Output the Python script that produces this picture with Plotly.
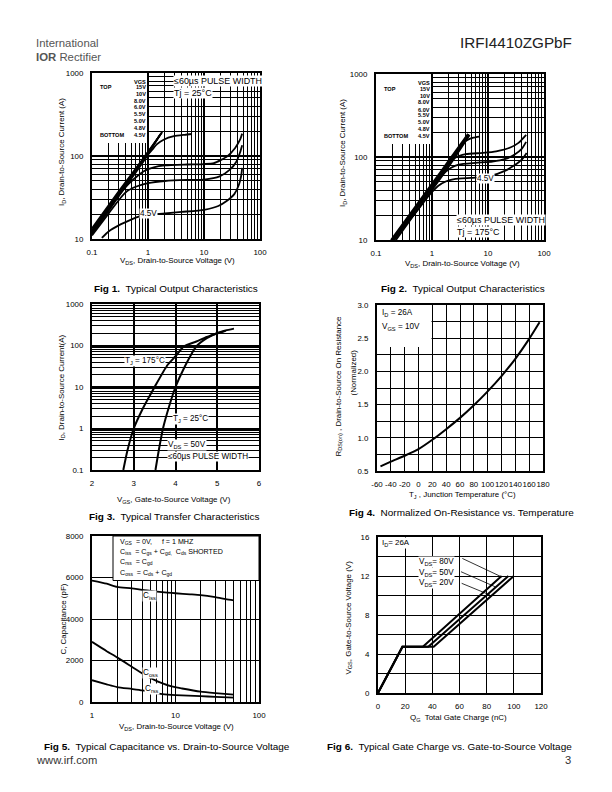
import plotly.graph_objects as go

# ======================= DATA =======================
# Fig 1 : Typical output characteristics, Tj = 25 C   (VDS [V], ID [A])
vgs_labels = ["15V", "10V", "8.0V", "6.0V", "5.5V", "5.0V", "4.8V", "4.5V"]
f1_vds_15v = [0.1, 0.3, 0.8, 1.8]
f1_id_15v = [13.5, 37.5, 91.5, 195]
f1_vds_10v = [0.1, 0.3, 0.8, 1.75]
f1_id_10v = [12.8, 36, 89, 190]
f1_vds_8v = [0.1, 0.3, 0.8, 1.7]
f1_id_8v = [12.2, 34.5, 86, 186]
f1_vds_6v = [0.1, 0.3, 0.8, 1.65]
f1_id_6v = [11.8, 33, 83, 182]
f1_vds_55v = [0.1, 0.3, 0.6, 0.9, 1.2, 1.45, 1.9, 2.9, 4.5, 6.1]
f1_id_55v = [12, 34, 66, 95, 120, 139, 157, 173, 180, 184]
f1_vds_50v = [0.1, 0.2, 0.3, 0.45, 0.64, 0.84, 1.27, 2, 5, 10, 15, 26, 36, 44, 48]
f1_id_50v = [11.5, 22, 33, 46, 57, 65.6, 73, 77, 79, 80, 82, 99, 125, 157, 186]
f1_vds_48v = [0.1, 0.2, 0.32, 0.42, 0.64, 1, 2, 5, 10, 19, 29, 38, 44, 48]
f1_id_48v = [11, 20.5, 31, 37.6, 43.2, 47, 50, 51.5, 52, 56.8, 68.5, 86, 110, 135]
f1_vds_45v = [0.15, 0.2, 0.3, 0.5, 0.7, 1, 2, 4, 10, 18, 25, 35, 42, 46, 48]
f1_id_45v = [10.3, 12.4, 14.6, 17.1, 18.7, 19.6, 20.3, 21.2, 22.5, 25, 28.5, 35, 45, 57, 72]

# Fig 2 : Typical output characteristics, Tj = 175 C
f2_vds_15v = [0.185, 0.5, 1, 2, 4.4]
f2_id_15v = [10, 25.2, 47.9, 91, 190]
f2_vds_10v = [0.2, 0.5, 1, 2, 4.5]
f2_id_10v = [10, 24, 45, 86, 188]
f2_vds_8v = [0.213, 0.5, 1, 2, 4.6]
f2_id_8v = [10, 22.5, 42.5, 81, 186]
f2_vds_6v = [0.227, 0.5, 1, 2, 4.7]
f2_id_6v = [10, 21, 40, 77, 184]
f2_vds_55v = [0.2, 0.5, 1, 2, 3, 3.6, 4.5, 5.5, 7]
f2_id_55v = [10, 24, 45, 86, 128, 148, 163, 171, 176]
f2_vds_50v = [0.2, 0.5, 1, 1.5, 2, 2.6, 4, 8, 14, 25, 35, 48]
f2_id_50v = [10, 23.5, 44, 64, 82, 98, 108, 112, 117, 130, 148, 185]
f2_vds_48v = [0.2, 0.5, 1, 1.5, 2.2, 3, 6, 12, 20, 30, 40, 48]
f2_id_48v = [10, 23, 43, 60, 74, 81, 85, 88, 94, 107, 125, 152]
f2_vds_45v = [0.2, 0.5, 0.9, 1.3, 1.8, 2.5, 5, 10, 20, 30, 40, 49]
f2_id_45v = [10, 21, 35, 45, 51, 54, 56, 58, 68, 80, 93, 112]

# Fig 3 : Typical transfer characteristics (VGS [V], ID [A])
f3_vgs_175 = [2.75, 2.85, 3.0, 3.2, 3.5, 3.8, 4.0, 4.2, 4.5, 4.75, 5.0, 5.2]
f3_id_175 = [0.1, 0.3, 1.0, 2.8, 10, 33, 55, 95, 125, 160, 195, 225]
f3_vgs_25 = [3.52, 3.6, 3.7, 3.85, 4.0, 4.2, 4.5, 4.75, 5.0, 5.2, 5.4]
f3_id_25 = [0.1, 0.3, 1.0, 3.5, 10, 28, 95, 150, 200, 230, 255]

# Fig 4 : Normalized on-resistance vs junction temperature
f4_tj = [-55, -40, -20, 0, 20, 40, 60, 80, 100, 120, 140, 160, 175]
f4_rds = [0.57, 0.64, 0.73, 0.83, 0.97, 1.13, 1.30, 1.49, 1.70, 1.93, 2.19, 2.49, 2.74]

# Fig 5 : Capacitance vs VDS (pF)
f5_vds_ciss = [1, 1.5, 2, 3, 4, 6, 8, 10, 15, 20, 30, 40, 50]
f5_ciss = [5850, 5700, 5550, 5480, 5400, 5320, 5270, 5240, 5190, 5150, 5050, 4960, 4900]
f5_vds_coss = [1, 1.5, 2, 3, 4, 5.5, 7, 9, 12, 20, 30, 50]
f5_coss = [2900, 2450, 2150, 1700, 1380, 1080, 900, 750, 650, 500, 430, 360]
f5_vds_crss = [1, 1.5, 2, 3, 4, 5, 7, 10, 20, 30, 50]
f5_crss = [1050, 850, 720, 630, 560, 480, 380, 330, 280, 250, 210]

# Fig 6 : Gate charge (QG [nC], VGS [V])
f6_qg_80v = [0, 18, 33, 91]
f6_qg_50v = [0, 18, 37, 96]
f6_qg_20v = [0, 18, 41, 100]
f6_vgs = [0, 4.75, 4.75, 12]

# tick labels
log_ticks_v = [0.1, 1, 10, 100]
log_ticks_v_txt = ["0.1", "1", "10", "100"]
log_ticks_i = [10, 100, 1000]
log_ticks_i_txt = ["10", "100", "1000"]
f3_yticks = [0.1, 1, 10, 100, 1000]
f3_yticks_txt = ["0.1", "1", "10", "100", "1000"]
f4_xticks = [-60, -40, -20, 0, 20, 40, 60, 80, 100, 120, 140, 160, 180]
f4_xticks_txt = ["-60", "-40", "-20", "0", "20", "40", "60", "80", "100", "120", "140",
                 "160", "180"]
f5_xticks = [1, 10, 100]
f5_xticks_txt = ["1", "10", "100"]

# ======================= FIGURE =======================
# Figure size kept at 596x776 (page has an 8 px body margin).  In the final
# photograph the figure area lands on x 15..598, y 12..779, so target page
# pixels are converted to paper fractions with that calibration.
W, H = 596, 776
IMG_X0, IMG_X1 = 15, 598
IMG_Y0, IMG_Y1 = 12, 779
SC = ((IMG_X1 - IMG_X0) / W + (IMG_Y1 - IMG_Y0) / H) / 2
FONT = "Liberation Sans, Arial, Helvetica, sans-serif"


def PX(px):
    return (px - IMG_X0) / (IMG_X1 - IMG_X0)


def PY(py):
    return 1 - (py - IMG_Y0) / (IMG_Y1 - IMG_Y0)


def FS(s):
    return round(s / SC, 2)


fig = go.Figure()

# plot frames in target pixels (left, right, top, bottom)
frames = {
    1: (93, 261, 73, 239),
    2: (377, 545, 74, 240),
    3: (93, 260, 304, 470),
    4: (378, 544, 305, 471),
    5: (93, 260, 536, 702),
    6: (379, 542, 537, 693),
}
ranges = {
    1: (("log", -1, 2), ("log", 1, 3)),
    2: (("log", -1, 2), ("log", 1, 3)),
    3: (("lin", 2, 6), ("log", -1, 3)),
    4: (("lin", -60, 180), ("lin", 0.5, 3.0)),
    5: (("log", 0, 2), ("lin", 0, 8000)),
    6: (("lin", 0, 120), ("lin", 0, 16)),
}


def ax_name(i, a):
    return a if i == 1 else f"{a}{i}"


def add_line(i, x, y, width=1.8, spline=True):
    fig.add_trace(go.Scatter(
        x=x, y=y, mode="lines", showlegend=False, hoverinfo="skip",
        line=dict(color="black", width=width,
                  shape="spline" if spline else "linear", smoothing=0.6),
        xaxis=ax_name(i, "x"), yaxis=ax_name(i, "y")))


for vx, iy in [(f1_vds_15v, f1_id_15v), (f1_vds_10v, f1_id_10v), (f1_vds_8v, f1_id_8v),
               (f1_vds_6v, f1_id_6v), (f1_vds_55v, f1_id_55v), (f1_vds_50v, f1_id_50v),
               (f1_vds_48v, f1_id_48v), (f1_vds_45v, f1_id_45v)]:
    add_line(1, vx, iy)
for vx, iy in [(f2_vds_15v, f2_id_15v), (f2_vds_10v, f2_id_10v), (f2_vds_8v, f2_id_8v),
               (f2_vds_6v, f2_id_6v), (f2_vds_55v, f2_id_55v), (f2_vds_50v, f2_id_50v),
               (f2_vds_48v, f2_id_48v), (f2_vds_45v, f2_id_45v)]:
    add_line(2, vx, iy)
add_line(3, f3_vgs_175, f3_id_175, 2)
add_line(3, f3_vgs_25, f3_id_25, 2)
add_line(4, f4_tj, f4_rds, 2)
add_line(5, f5_vds_ciss, f5_ciss, 1.8)
add_line(5, f5_vds_coss, f5_coss, 1.8)
add_line(5, f5_vds_crss, f5_crss, 1.8)
for q in (f6_qg_80v, f6_qg_50v, f6_qg_20v):
    add_line(6, q, f6_vgs, 2, spline=False)

tickfont = dict(family=FONT, size=FS(7.8), color="black")


def base_axis(i, which, **kw):
    l, r, t, b = frames[i]
    if which == "x":
        dom = [PX(l), PX(r)]
        anchor = ax_name(i, "y")
        standoff = 4
    else:
        dom = [PY(b), PY(t)]
        anchor = ax_name(i, "x")
        standoff = 5
    d = dict(domain=dom, anchor=anchor, showline=True, mirror=True, linecolor="black",
             linewidth=2, ticks="", zeroline=False, showgrid=True, gridcolor="black",
             gridwidth=1.2, tickfont=tickfont, ticklabelstandoff=standoff, tickangle=0,
             fixedrange=True)
    d.update(kw)
    return d


def log_minor(e0, e1):
    return [m * 10 ** e for e in range(e0, e1) for m in range(2, 10)]


lay = {}
for i in (1, 2):
    lay[ax_name(i, "xaxis")] = base_axis(
        i, "x", type="log", range=[-1, 2], tickmode="array", tickvals=log_ticks_v,
        ticktext=log_ticks_v_txt, gridwidth=1.5,
        minor=dict(tickmode="array", tickvals=log_minor(-1, 2), showgrid=True,
                   gridcolor="black", gridwidth=1.1, ticks=""))
    lay[ax_name(i, "yaxis")] = base_axis(
        i, "y", type="log", range=[1, 3], tickmode="array", tickvals=log_ticks_i,
        ticktext=log_ticks_i_txt, gridwidth=1.5,
        minor=dict(tickmode="array", tickvals=log_minor(1, 3), showgrid=True,
                   gridcolor="black", gridwidth=1.1, ticks=""))
lay["xaxis3"] = base_axis(3, "x", range=[2, 6], dtick=1, tick0=2, gridwidth=2)
lay["yaxis3"] = base_axis(
    3, "y", type="log", range=[-1, 3], tickmode="array", tickvals=f3_yticks,
    ticktext=f3_yticks_txt, gridwidth=2.2,
    minor=dict(tickmode="array", tickvals=log_minor(-1, 3), showgrid=True,
               gridcolor="black", gridwidth=1, ticks=""))
lay["xaxis4"] = base_axis(4, "x", range=[-60, 180], tickmode="array", tickvals=f4_xticks,
                          ticktext=f4_xticks_txt, gridwidth=1.3)
lay["yaxis4"] = base_axis(4, "y", range=[0.5, 3.0], dtick=0.5, tick0=0.5, tickformat=".1f",
                          gridwidth=1.3,
                          minor=dict(dtick=0.25, tick0=0.5, showgrid=True, gridcolor="black",
                                     gridwidth=1.3, ticks=""))
lay["xaxis5"] = base_axis(
    5, "x", type="log", range=[0, 2], tickmode="array", tickvals=f5_xticks,
    ticktext=f5_xticks_txt, gridwidth=1,
    minor=dict(tickmode="array", tickvals=log_minor(0, 2), showgrid=True,
               gridcolor="black", gridwidth=1, ticks=""))
lay["yaxis5"] = base_axis(5, "y", range=[0, 8000], dtick=2000, tick0=0, gridwidth=1.2)
lay["xaxis6"] = base_axis(6, "x", range=[0, 120], dtick=20, tick0=0, gridwidth=1)
lay["yaxis6"] = base_axis(6, "y", range=[0, 16], dtick=4, tick0=0, gridwidth=1,
                          minor=dict(dtick=2, tick0=0, showgrid=True, gridcolor="black",
                                     gridwidth=1, ticks=""))


def px_to_data(i, px, py):
    l, r, t, b = frames[i]
    (kx, x0, x1), (ky, y0, y1) = ranges[i]
    vx = x0 + (px - l) / (r - l) * (x1 - x0)
    vy = y0 + (b - py) / (b - t) * (y1 - y0)
    if kx == "log":
        vx = 10 ** vx
    if ky == "log":
        vy = 10 ** vy
    return vx, vy


shapes = []


def box(i, px0, px1, py0, py1, line=False):
    xa, ya = px_to_data(i, px0, py1)
    xb, yb = px_to_data(i, px1, py0)
    shapes.append(dict(
        type="rect", layer="between", xref=ax_name(i, "x"), yref=ax_name(i, "y"),
        x0=xa, x1=xb, y0=ya, y1=yb,
        fillcolor="white", line=dict(color="black", width=1 if line else 0)))


# white legend areas that hide the grid
box(1, 92, 148, 72, 143)
box(2, 376, 432, 73, 144)
box(4, 377, 432.5, 304, 347)
box(5, 114, 260, 536, 580.5, line=True)

# Fig 6 leader lines
for (xa, ya, xb, yb) in [(62.1, 13.8, 91.1, 11.9), (61.1, 12.44, 86.2, 10.9),
                         (61.6, 11.25, 82.5, 10.05)]:
    shapes.append(dict(type="line", xref="x6", yref="y6", x0=xa, y0=ya, x1=xb, y1=yb,
                       line=dict(color="black", width=0.8), layer="above"))

anns = []


def ann(text, px, py, size=8, xanchor="left", angle=0, bg=None, color="black"):
    d = dict(text=text, x=PX(px), y=PY(py), xref="paper", yref="paper",
             showarrow=False, xanchor=xanchor, yanchor="middle", textangle=angle,
             font=dict(family=FONT, size=FS(size), color=color), borderpad=0)
    if bg:
        d["bgcolor"] = bg
    anns.append(d)


# header / footer
ann("International", 36, 43, 11.2, color="#555555")
ann("<b>IOR</b> Rectifier", 36, 57, 11.2, color="#555555")
ann("IRFI4410ZGPbF", 574, 43, 15, xanchor="right", color="#222222")
ann("www.irf.com", 36, 760, 11, color="#333333")
ann("3", 573, 760, 11, xanchor="right", color="#333333")

# Fig 1 / Fig 2 VGS legends
f1_rows = [87, 94, 100.7, 107, 114, 120.7, 128, 134.7]
f2_rows = [88.7, 95.7, 102, 109.7, 115.3, 121.8, 129, 136.3]
for rows, xr, xl, yv in ((f1_rows, 147.5, 100, 82), (f2_rows, 432, 384, 83)):
    ann("<b>VGS</b>", xr, yv, 5.5, xanchor="right")
    ann("<b>TOP</b>", xl, rows[0], 5.5)
    ann("<b>BOTTOM</b>", xl, rows[-1], 5.5)
    for lab, yy in zip(vgs_labels, rows):
        ann(f"<b>{lab}</b>", xr, yy, 5.5, xanchor="right")

# Fig 1
ann("≤60µs PULSE WIDTH", 174, 81, 8.8, bg="white")
ann("Tj = 25°C", 174, 93, 8.8, bg="white")
ann("4.5V", 140, 213, 8, bg="white")
ann("I<sub>D</sub>, Drain-to-Source Current (A)", 63, 152, 7.8, xanchor="center", angle=-90)
ann("V<sub>DS</sub>, Drain-to-Source Voltage (V)", 178, 261, 7.8, xanchor="center")
ann("<b>Fig 1.</b>&nbsp; Typical Output Characteristics", 176.5, 288, 9.8, xanchor="center")

# Fig 2
ann("≤60µs PULSE WIDTH", 457, 220, 8.8, bg="white")
ann("Tj = 175°C", 457, 231.5, 8.8, bg="white")
ann("4.5V", 477, 178, 8, bg="white")
ann("I<sub>D</sub>, Drain-to-Source Current (A)", 344, 153, 7.8, xanchor="center", angle=-90)
ann("V<sub>DS</sub>, Drain-to-Source Voltage (V)", 463, 264, 7.8, xanchor="center")
ann("<b>Fig 2.</b>&nbsp; Typical Output Characteristics", 464, 288, 9.8, xanchor="center")

# Fig 3
ann("T<sub>J</sub> = 175°C", 125, 360.7, 8, bg="white")
ann("T<sub>J</sub> = 25°C", 173, 419.3, 8, bg="white")
ann("V<sub>DS</sub> = 50V", 168, 445, 8, bg="white")
ann("≤60µs PULSE WIDTH", 168, 456.7, 8, bg="white")
ann("I<sub>D</sub>, Drain-to-Source Current(A)", 62, 387.5, 7.8, xanchor="center", angle=-90)
ann("V<sub>GS</sub>, Gate-to-Source Voltage (V)", 175, 500, 7.8, xanchor="center")
ann("<b>Fig 3.</b>&nbsp; Typical Transfer Characteristics", 175, 516.7, 9.8, xanchor="center")

# Fig 4
ann("I<sub>D</sub> = 26A", 382, 313, 8)
ann("V<sub>GS</sub> = 10V", 382, 327, 8)
ann("R<sub>DS(on)</sub> , Drain-to-Source On Resistance", 339.5, 386, 7.8,
    xanchor="center", angle=-90)
ann("(Normalized)", 353.5, 373, 7.8, xanchor="center", angle=-90)
ann("T<sub>J</sub> , Junction Temperature (°C)", 463, 495, 7.8, xanchor="center")
ann("<b>Fig 4.</b>&nbsp; Normalized On-Resistance vs. Temperature", 462.5, 512.3, 9.8,
    xanchor="center")

# Fig 5
ann("V<sub>GS</sub>&nbsp; = 0V,&nbsp;&nbsp;&nbsp;&nbsp; f = 1 MHZ", 119.5, 541.7, 7)
ann("C<sub>iss</sub>&nbsp; = C<sub>gs</sub> + C<sub>gd,</sub>&nbsp; C<sub>ds</sub> SHORTED",
    119.5, 551.7, 7)
ann("C<sub>rss</sub>&nbsp; = C<sub>gd</sub>", 119.5, 561.7, 7)
ann("C<sub>oss</sub>&nbsp; = C<sub>ds</sub> + C<sub>gd</sub>", 119.5, 572.7, 7)
ann("C<sub>iss</sub>", 143, 595.5, 8, bg="white")
ann("C<sub>oss</sub>", 143, 672.5, 8, bg="white")
ann("C<sub>rss</sub>", 145, 689, 8, bg="white")
ann("C, Capacitance (pF)", 63.5, 619, 7.8, xanchor="center", angle=-90)
ann("V<sub>DS</sub>, Drain-to-Source Voltage (V)", 177, 727, 7.8, xanchor="center")
ann("<b>Fig 5.</b>&nbsp; Typical Capacitance vs. Drain-to-Source Voltage", 168, 746, 9.8,
    xanchor="center")

# Fig 6
ann("I<sub>D</sub>= 26A", 382, 543, 7.8, bg="white")
ann("V<sub>DS</sub>= 80V", 419, 562.3, 8, bg="white")
ann("V<sub>DS</sub>= 50V", 419, 572.7, 8, bg="white")
ann("V<sub>DS</sub>= 20V", 419, 583.3, 8, bg="white")
ann("V<sub>GS</sub>, Gate-to-Source Voltage (V)", 349.5, 618, 7.8, xanchor="center", angle=-90)
ann("Q<sub>G</sub>&nbsp; Total Gate Charge (nC)", 459, 718.3, 7.8, xanchor="center")
ann("<b>Fig 6.</b>&nbsp; Typical Gate Charge vs. Gate-to-Source Voltage", 450.5, 746, 9.8,
    xanchor="center")

fig.update_layout(
    width=W, height=H, margin=dict(l=0, r=0, t=0, b=0),
    paper_bgcolor="white", plot_bgcolor="white",
    font=dict(family=FONT, color="black"),
    showlegend=False, shapes=shapes, annotations=anns, **lay)

fig.write_html("out.html", config={"displayModeBar": False})
